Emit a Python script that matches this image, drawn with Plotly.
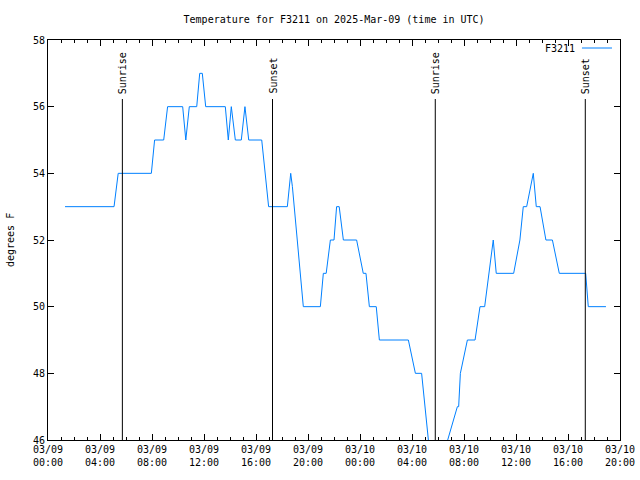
import pandas as pd
import plotly.graph_objects as go

base = pd.Timestamp("2025-03-09 00:00")

# hours since 2025-03-09 00:00 UTC, temperature in F
hours = [1.31, 5.08, 5.4, 7.95, 8.2, 8.9, 9.2, 10.36, 10.6, 10.87, 11.44, 11.67, 11.87, 12.13,
         13.64, 13.87, 14.1, 14.41, 14.87, 15.15, 15.44, 16.44, 16.97, 18.41, 18.67, 18.8, 19.64,
         20.95, 21.18, 21.4, 21.72, 22.0, 22.2, 22.4, 22.72, 23.74, 24.25, 24.46, 24.72, 25.25,
         25.49, 27.72, 28.26, 28.74, 29.26, 29.5, 30.0, 30.75, 31.49, 31.59, 31.72, 32.26, 32.85,
         33.23, 33.59, 34.25, 34.48, 35.82, 36.3, 36.56, 36.82, 37.33, 37.56, 37.85, 38.3, 38.8,
         39.33, 41.36, 41.56, 42.92]
temps = [53, 53, 54, 54, 55, 55, 56, 56, 55, 56, 56, 57, 57, 56,
         56, 55, 56, 55, 55, 56, 55, 55, 53, 53, 54, 53.6, 50,
         50, 51, 51, 52, 52, 53, 53, 52, 52, 51, 51, 50, 50,
         49, 49, 48, 48, 46, 45, 45, 46, 47, 47, 48, 49, 49,
         50, 50, 52, 51, 51, 52, 53, 53, 54, 53, 53, 52, 52,
         51, 51, 50, 50]

event_hours = [5.72, 17.27, 29.79, 41.33]
event_labels = ["Sunrise", "Sunset", "Sunrise", "Sunset"]

y_ticks = [46, 48, 50, 52, 54, 56, 58]

times = [base + pd.Timedelta(hours=h) for h in hours]
event_times = [base + pd.Timedelta(hours=h) for h in event_hours]

FONT = "DejaVu Sans Mono"

fig = go.Figure()
fig.add_trace(go.Scatter(x=times, y=temps, mode="lines",
                         line=dict(color="rgb(0,128,255)", width=1),
                         name="F3211", showlegend=False))

shapes = []
annotations = []
for t, lab in zip(event_times, event_labels):
    shapes.append(dict(type="line", xref="x", yref="paper", x0=t, x1=t, y0=0, y1=0.8525,
                       line=dict(color="black", width=1)))
    annotations.append(dict(x=t, y=0.86, xref="x", yref="paper", text=lab, textangle=-90,
                            showarrow=False, xanchor="center", yanchor="bottom",
                            font=dict(family=FONT, size=10, color="black")))

# legend key (gnuplot style: text then line sample)
annotations.append(dict(x=0.925, y=0.98, xref="paper", yref="paper", text="F3211",
                        showarrow=False, xanchor="right", yanchor="middle",
                        font=dict(family=FONT, size=10, color="black")))
shapes.append(dict(type="line", xref="paper", yref="paper", x0=0.9335, x1=0.986, y0=0.98, y1=0.98,
                   line=dict(color="rgb(0,128,255)", width=1)))

# y axis title placed like gnuplot
annotations.append(dict(x=10, y=0.5, xref="paper", yref="paper", text="degrees F",
                        showarrow=False, textangle=-90, xanchor="center", yanchor="middle",
                        font=dict(family=FONT, size=10, color="black")))
annotations[-1]["x"] = (10 - 48) / 572

fig.update_layout(
    width=640, height=480,
    margin=dict(l=48, r=20, t=40, b=40, autoexpand=False),
    paper_bgcolor="white", plot_bgcolor="white",
    title=dict(text="Temperature for F3211 on 2025-Mar-09 (time in UTC)", x=0.522, xanchor="center",
               y=0.96, yanchor="middle", font=dict(family=FONT, size=10, color="black")),
    font=dict(family=FONT, size=10, color="black"),
    shapes=shapes, annotations=annotations,
    showlegend=False,
)
fig.update_xaxes(
    type="date", automargin=False,
    range=[base, base + pd.Timedelta(hours=44)],
    tickvals=[base + pd.Timedelta(hours=4 * i) for i in range(12)],
    tickformat="%m/%d<br>%H:%M",
    ticks="inside", ticklen=6, tickcolor="black",
    minor=dict(dtick=3600000, ticks="inside", ticklen=3, tickcolor="black"),
    showline=True, linecolor="black", linewidth=1, mirror="allticks",
    showgrid=False, zeroline=False,
    tickfont=dict(family=FONT, size=10, color="black"),
)
fig.update_yaxes(
    automargin=False,
    range=[46, 58], tickvals=y_ticks,
    ticks="inside", ticklen=6, tickcolor="black",
    showline=True, linecolor="black", linewidth=1, mirror="allticks",
    showgrid=False, zeroline=False,
    tickfont=dict(family=FONT, size=10, color="black"),
)

fig.write_html("out.html")
